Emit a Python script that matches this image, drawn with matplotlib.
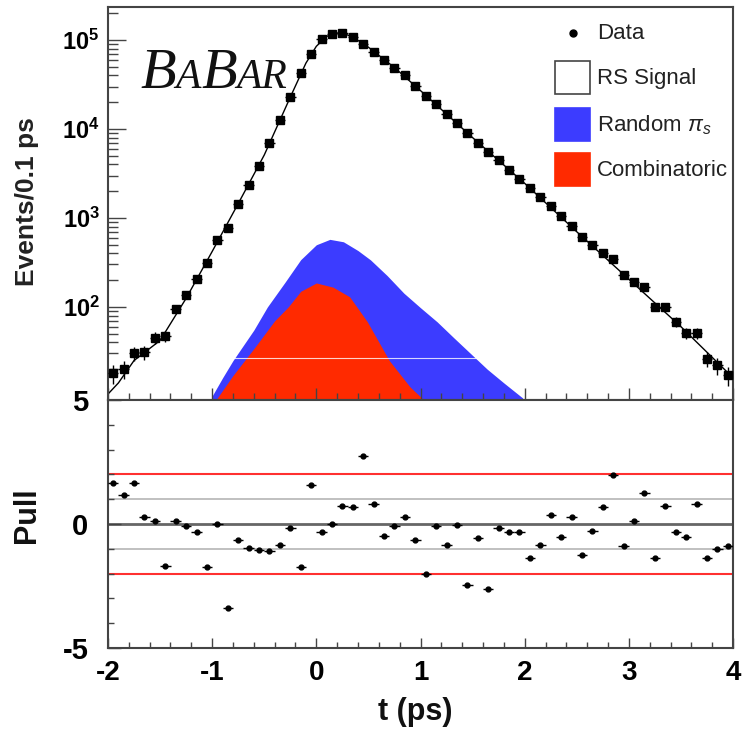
import numpy as np
import matplotlib
matplotlib.use("Agg")
import matplotlib.pyplot as plt  # noqa: E402
from matplotlib.patches import Rectangle  # noqa: E402
from matplotlib.lines import Line2D  # noqa: E402
from matplotlib.offsetbox import TextArea, HPacker, AnchoredOffsetbox  # noqa: E402
from matplotlib.ticker import FixedLocator, MultipleLocator, NullFormatter  # noqa: E402

plt.rcParams["font.family"] = ["Liberation Sans", "DejaVu Sans"]
plt.rcParams["axes.unicode_minus"] = False
plt.rcParams["mathtext.fontset"] = "custom"
plt.rcParams["mathtext.rm"] = "Liberation Sans"
plt.rcParams["mathtext.bf"] = "Liberation Sans:bold"
plt.rcParams["mathtext.it"] = "Liberation Sans:italic"

# --- data ---------------------------------------------------------------
t_bins = np.round(np.arange(-1.95, 4.0, 0.1), 2)  # 0.1 ps bin centres
counts = [18, 20, 30, 31, 45, 47, 95, 136, 206, 311,
          565, 770, 1450, 2360, 3830, 6900, 12600, 22800, 42600, 69000,
          102000, 118000, 119000, 107000, 91000, 74000, 60000, 49000, 40000, 30500,
          23300, 19000, 14700, 11700, 9100, 7000, 5500, 4470, 3470, 2750,
          2190, 1740, 1350, 1050, 810, 610, 500, 405, 345, 230,
          190, 167, 100, 100, 68, 51, 51, 26, 22, 17]
pulls = [1.65, 1.18, 1.65, 0.28, 0.13, -1.68, 0.11, -0.07, -0.34, -1.75,
         0.01, -3.39, -0.63, -0.97, -1.03, -1.10, -0.83, -0.16, -1.75, 1.59,
         -0.34, 0.01, 0.74, 0.67, 2.76, 0.82, -0.47, -0.09, 0.28, -0.66,
         -2.02, -0.09, -0.85, -0.04, -2.46, -0.56, -2.62, -0.16, -0.34, -0.34,
         -1.37, -0.83, 0.35, -0.52, 0.28, -1.24, -0.30, 0.67, 1.99, -0.90,
         0.13, 1.25, -1.37, 0.74, -0.34, -0.52, 0.82, -1.37, -0.99, -0.87]

t_fit = [-2.0, -1.9, -1.75, -1.5, -1.25, -1.0, -0.75, -0.5, -0.25, -0.1,
         0.0, 0.1, 0.2, 0.3, 0.4, 0.5, 0.75, 1.0, 1.5, 2.0, 2.5, 3.0, 3.5, 4.0]
fit_vals = [10.5, 14, 25, 42, 125, 420, 1450, 5100, 22800, 55000,
            85000, 110000, 120000, 114000, 99000, 83000, 49000, 27000, 8000,
            2450, 700, 205, 60, 16]

# Random pi_s (stacked on combinatoric) and combinatoric shapes
t_rnd = [-1.06, -1.0, -0.9, -0.8, -0.6, -0.47, -0.3, -0.15, 0.0, 0.13,
         0.26, 0.4, 0.52, 0.68, 0.84, 1.0, 1.16, 1.32, 1.48, 1.64, 1.8, 1.98, 2.02]
rnd_vals = [5, 10, 16, 25, 55, 100, 190, 340, 500, 575,
            540, 430, 338, 225, 143, 98, 68, 45, 30, 20, 14, 9.5, 7]
t_cmb = [-1.0, -0.95, -0.8, -0.6, -0.4, -0.27, -0.15, 0.0, 0.16, 0.32,
         0.49, 0.7, 0.9, 1.02, 1.06]
cmb_vals = [7, 9.5, 17, 34, 70, 100, 150, 186, 167, 130,
            68, 25, 12.6, 9.3, 7]

legend_labels = ["Data", "RS Signal", r"Random $\pi_{s}$", "Combinatoric"]
BLUE = "#3c3cff"
RED = "#ff2a00"
FRAME = "#444444"

W, H = 743, 734
fig = plt.figure(figsize=(W / 100, H / 100), dpi=100)
ax1 = fig.add_axes([108 / W, 1 - 400 / H, 625 / W, 393 / H])
ax2 = fig.add_axes([108 / W, 1 - 648 / H, 625 / W, 248 / H])

# --- top panel -----------------------------------------------------------
ax1.set_yscale("log")
ax1.fill_between(t_rnd, 1, rnd_vals, color=BLUE, lw=0, zorder=1)
ax1.fill_between(t_cmb, 1, cmb_vals, color=RED, lw=0, zorder=1.1)
ax1.axhline(27, color="white", lw=0.8, alpha=0.8, zorder=1.5)
ax1.plot(t_fit, fit_vals, color="k", lw=1, zorder=2)
cnt = np.asarray(counts, dtype=float)
ax1.errorbar(t_bins, cnt, xerr=0.05, yerr=np.sqrt(cnt), fmt="s", ms=6,
             color="k", elinewidth=1, capsize=0, zorder=3)
ax1.set_xlim(-2, 4)
ax1.set_ylim(9, 2.35e5)
ax1.yaxis.set_major_locator(FixedLocator([1e2, 1e3, 1e4, 1e5]))
ax1.yaxis.set_major_formatter(plt.FuncFormatter(
    lambda v, p: r"$\mathbf{10^{%d}}$" % round(np.log10(v))))
minors = [m * 10 ** e for e in range(1, 6) for m in range(2, 10)]
ax1.yaxis.set_minor_locator(FixedLocator(minors))
ax1.yaxis.set_minor_formatter(NullFormatter())
ax1.xaxis.set_major_locator(MultipleLocator(1))
ax1.xaxis.set_minor_locator(MultipleLocator(0.2))
ax1.tick_params(axis="y", which="major", direction="in", length=13, width=1,
                color=FRAME, labelsize=17, pad=6, right=False)
ax1.tick_params(axis="y", which="minor", direction="in", length=7, width=1,
                color=FRAME, right=False)
ax1.tick_params(axis="x", which="major", direction="in", length=9, width=1,
                color=FRAME, labelbottom=False, top=False)
ax1.tick_params(axis="x", which="minor", direction="in", length=5, width=1,
                color=FRAME, top=False)


# legend drawn by hand (ROOT style boxes)
def px2ax(x, y):
    return (x - 108) / 625, 1 - (y - 7) / 393


bw = 35 / 625
bh = 33 / 393
ax1.add_line(Line2D([px2ax(573, 33)[0]], [px2ax(573, 33)[1]], marker="o",
                    ms=5, color="k", transform=ax1.transAxes))
for (y, fc, ec) in [(78, "white", "#444444"), (125, BLUE, BLUE), (170, RED, RED)]:
    x0, y0 = px2ax(555, y + 16)
    ax1.add_patch(Rectangle((x0, y0), bw, bh, transform=ax1.transAxes,
                            facecolor=fc, edgecolor=ec, lw=1.2, zorder=4))
for lab, y in zip(legend_labels, [33, 78, 125, 170]):
    tx, ty = px2ax(597, y)
    ax1.text(tx, ty, lab, transform=ax1.transAxes, fontsize=16,
             ha="left", va="center", color="#222222")

# BaBar logo
serif = dict(family="Liberation Serif", style="italic", color="#111111")
logo = HPacker(children=[TextArea("B", textprops=dict(fontsize=42, **serif)),
                         TextArea("A", textprops=dict(fontsize=30, **serif)),
                         TextArea("B", textprops=dict(fontsize=42, **serif)),
                         TextArea("AR", textprops=dict(fontsize=30, **serif))],
               align="baseline", pad=0, sep=0)
ab = AnchoredOffsetbox(loc="lower left", child=logo, pad=0, borderpad=0,
                       frameon=False, bbox_to_anchor=px2ax(140, 100),
                       bbox_transform=ax1.transAxes)
ax1.add_artist(ab)

# --- pull panel ----------------------------------------------------------
ax2.axhline(0, color="#666666", lw=2, zorder=1)
for v in (-1, 1):
    ax2.axhline(v, color="#bbbbbb", lw=1.3, zorder=1)
for v in (-2, 2):
    ax2.axhline(v, color="#ff3030", lw=1.5, zorder=1)
ax2.errorbar(t_bins, pulls, xerr=0.05, fmt="o", ms=3.5, color="k",
             elinewidth=1, capsize=0, zorder=3)
ax2.set_xlim(-2, 4)
ax2.set_ylim(-5, 5)
ax2.xaxis.set_major_locator(MultipleLocator(1))
ax2.xaxis.set_minor_locator(MultipleLocator(0.2))
ax2.yaxis.set_major_locator(FixedLocator([-5, 0, 5]))
ax2.yaxis.set_minor_locator(MultipleLocator(1))
ax2.xaxis.set_major_formatter(plt.FuncFormatter(lambda v, p: "%d" % v))
ax2.yaxis.set_major_formatter(plt.FuncFormatter(lambda v, p: "%d" % v))
ax2.tick_params(axis="x", which="major", direction="in", length=7, width=1,
                color=FRAME, labelsize=20, pad=9, top=False)
ax2.tick_params(axis="x", which="minor", direction="in", length=4, width=1,
                color=FRAME, top=False)
ax2.tick_params(axis="y", which="major", direction="in", length=9, width=1,
                color=FRAME, labelsize=21, pad=14, right=False)
ax2.tick_params(axis="y", which="minor", direction="in", length=4, width=1,
                color=FRAME, right=False)
for lab in ax2.get_xticklabels() + ax2.get_yticklabels():
    lab.set_fontweight("bold")

for ax in (ax1, ax2):
    for s in ax.spines.values():
        s.set_color(FRAME)
        s.set_linewidth(1.5)

fig.text(27 / W, 1 - 202 / H, "Events/0.1 ps", rotation=90, ha="center",
         va="center", fontsize=19, fontweight="bold", color="#222222")
fig.text(27 / W, 1 - 515 / H, "Pull", rotation=90, ha="center",
         va="center", fontsize=22, fontweight="bold", color="#111111")
fig.text(415 / W, 1 - 712 / H, "t (ps)", ha="center", va="center",
         fontsize=22, fontweight="bold", color="#111111")

fig.savefig("out.png", dpi=100)
